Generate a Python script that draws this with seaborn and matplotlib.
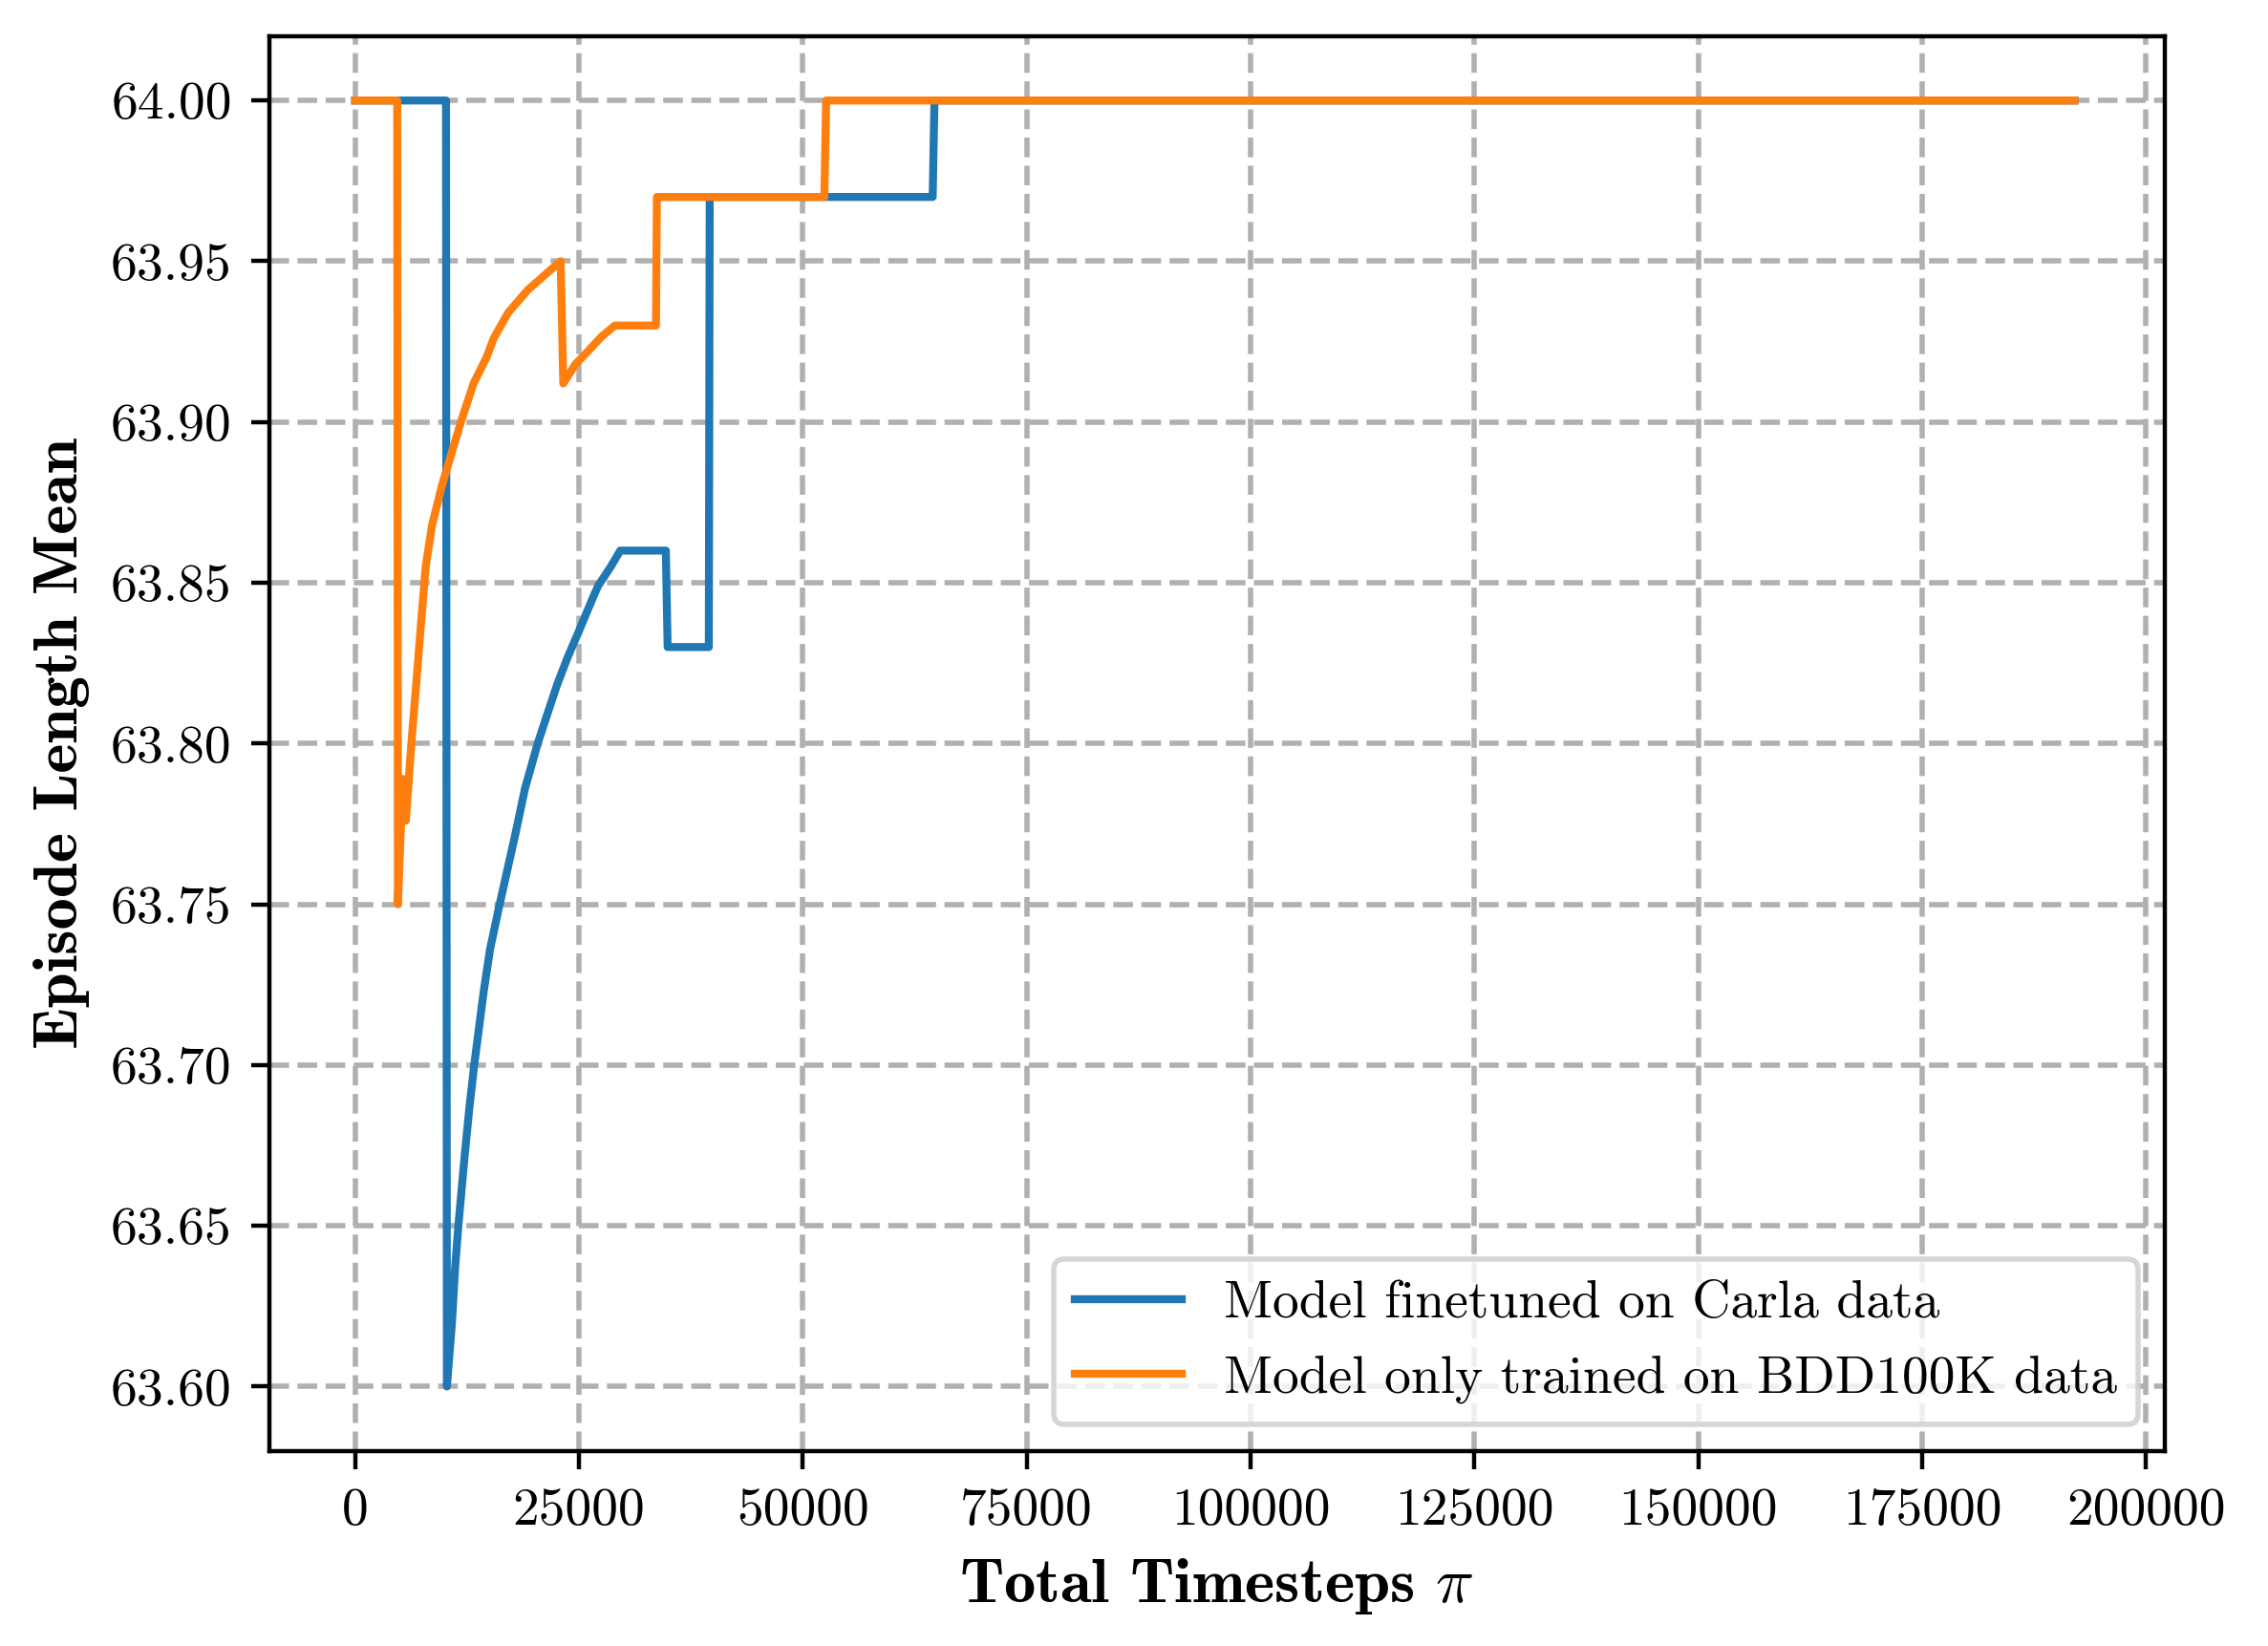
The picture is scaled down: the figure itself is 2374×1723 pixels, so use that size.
import matplotlib
matplotlib.use("Agg")
import matplotlib.pyplot as plt
import seaborn as sns
import pandas as pd

# Valores
carla_x = [0, 10150, 10250, 10820, 11170, 11530, 12240, 12770, 13300, 14365,
           15070, 16140, 17910, 18970, 20390, 21450, 22520, 23760, 25000,
           26500, 27130, 28550, 29610, 34700, 34900, 39500, 39600, 64500,
           64700, 192000]
carla_y = [64.00, 64.00, 63.60, 63.620, 63.637, 63.65, 63.672, 63.687, 63.70,
           63.723, 63.736, 63.75, 63.772, 63.786, 63.80, 63.809, 63.818,
           63.827, 63.835, 63.845, 63.849, 63.855, 63.86, 63.86, 63.83, 63.83,
           63.97, 63.97, 64.00, 64.00]

bdd_x = [0, 4700, 4780, 5320, 5670, 6280, 6810, 7350, 7880, 8600, 9670,
         10740, 11810, 13230, 14660, 15470, 17090, 19260, 21700, 22950, 23250,
         24600, 26000, 27500, 29000, 33600, 33700, 52400, 52600, 192000]
bdd_y = [64.00, 64.00, 63.75, 63.789, 63.776, 63.80, 63.818, 63.837, 63.855,
         63.868, 63.880, 63.890, 63.90, 63.912, 63.920, 63.926, 63.934,
         63.941, 63.947, 63.95, 63.912, 63.918, 63.922, 63.9265, 63.93, 63.93,
         63.97, 63.97, 64.00, 64.00]

labels = ["Model finetuned on Carla data", "Model only trained on BDD100K data"]

df = pd.concat([
    pd.DataFrame({"timesteps": carla_x, "length": carla_y, "modelo": labels[0]}),
    pd.DataFrame({"timesteps": bdd_x, "length": bdd_y, "modelo": labels[1]}),
])

plt.rcParams["font.family"] = "serif"
plt.rcParams["font.serif"] = ["cmr10"]
plt.rcParams["mathtext.fontset"] = "cm"
plt.rcParams["axes.formatter.use_mathtext"] = True
plt.rcParams["font.size"] = 10

fig, ax = plt.subplots(figsize=(2374 / 400, 1723 / 400), dpi=400)
fig.subplots_adjust(left=0.1186, right=0.9545, bottom=0.1186, top=0.978)

sns.lineplot(data=df, x="timesteps", y="length", hue="modelo",
             palette=["#1f77b4", "#ff7f0e"], estimator=None, sort=False,
             linewidth=1.5, ax=ax)

ax.grid(True, linestyle="--", linewidth=1.0, color="#b0b0b0")
ax.set_xticks([0, 25000, 50000, 75000, 100000, 125000, 150000, 175000, 200000])
ax.set_xticklabels(["0", "25000", "50000", "75000", "100000", "125000",
                    "150000", "175000", "200000"])
ax.set_yticks([63.60, 63.65, 63.70, 63.75, 63.80, 63.85, 63.90, 63.95, 64.00])
ax.set_yticklabels(["63.60", "63.65", "63.70", "63.75", "63.80", "63.85",
                    "63.90", "63.95", "64.00"])
ax.set_xlim(-9620, 202100)
ax.set_ylim(63.58, 64.02)

ax.set_xlabel(r"Total Timesteps $\pi$", fontfamily="cmb10", fontsize=12)
ax.set_ylabel("Episode Length Mean", fontfamily="cmb10", fontsize=12)
ax.legend(title=None, loc="lower right")

fig.savefig("out.png", dpi=400)
